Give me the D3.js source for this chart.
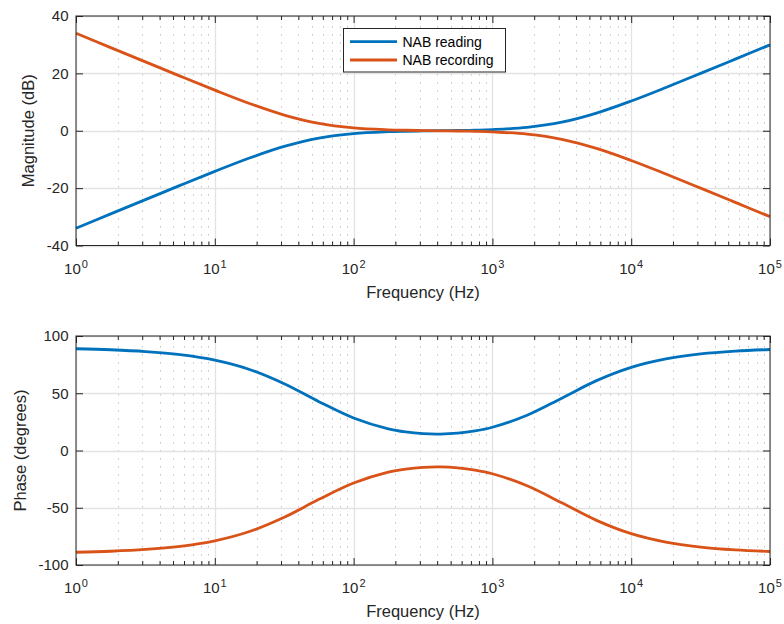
<!DOCTYPE html>
<html>
<head>
<meta charset="utf-8">
<script src="https://cdn.jsdelivr.net/npm/d3@7"></script>
<style>
  body { margin: 0; background: #fff; }
  svg { font-family: "Liberation Sans", Arial, Helvetica, sans-serif; }
</style>
</head>
<body>
<div id="chart"></div>
<script>
'use strict';

// Data (frequency in Hz)
var freq = [1, 1.778, 3.162, 5.623, 10, 17.78, 31.62, 56.23, 100, 177.8, 237.1, 316.2,
            421.7, 562.3, 749.9, 1000, 1778, 3162, 5623, 10000, 17783, 31623, 56234, 100000];

var readingMag = [-33.99, -28.99, -24.01, -19.04, -14.16, -9.50, -5.45, -2.53, -0.97, -0.32, -0.17, -0.07,
                  0.02, 0.09, 0.21, 0.40, 1.18, 2.98, 6.15, 10.36, 15.08, 19.99, 24.96, 29.95];
var recordingMag = [33.99, 28.99, 24.01, 19.04, 14.16, 9.50, 5.45, 2.53, 0.97, 0.32, 0.17, 0.07,
                    -0.02, -0.09, -0.21, -0.40, -1.18, -2.98, -6.15, -10.36, -15.08, -19.99, -24.96, -29.95];

var readingPhase = [88.87, 88.00, 86.44, 83.69, 78.88, 70.76, 58.29, 42.68, 28.39, 18.92, 16.18, 14.67,
                    14.32, 15.11, 17.08, 20.31, 30.80, 45.72, 61.00, 72.63, 80.01, 84.34, 86.81, 88.21];
var recordingPhase = [-88.87, -88.00, -86.44, -83.69, -78.88, -70.76, -58.29, -42.68, -28.39, -18.92, -16.18, -14.67,
                      -14.32, -15.11, -17.08, -20.31, -30.80, -45.72, -61.00, -72.63, -80.01, -84.34, -86.81, -88.21];

var seriesNames = ['NAB reading', 'NAB recording'];
var xTicks = [1, 10, 100, 1000, 10000, 100000];
var xTickExp = ['0', '1', '2', '3', '4', '5'];
var magTicks = [-40, -20, 0, 20, 40];
var phaseTicks = [-100, -50, 0, 50, 100];

var settings = {}
settings.width = 784
settings.height = 624
settings.left = 76
settings.right = 770
settings.colors = ['#0072BD', '#D95319']
settings.axis_color = '#262626'
settings.grid_color = '#e3e3e3'
settings.minor_grid_color = '#c2c2c2'
settings.line_width = 2.8
settings.tick_font_size = '15px'
settings.exp_font_size = '11px'
settings.label_font_size = '16.5px'
settings.legend_font_size = '14px'

var svg = d3.select('#chart').append('svg')
    .attr('width', settings.width)
    .attr('height', settings.height)

var x = d3.scaleLog()
    .domain([1, 100000])
    .range([settings.left, settings.right])

// minor ticks 2..9 of every decade
var minorTicks = []
xTicks.slice(0, -1).forEach(function(d) {
  for (var m = 2; m <= 9; m++) minorTicks.push(d * m)
})

function panel(opt) {
  var y = d3.scaleLinear()
      .domain(opt.domain)
      .range([opt.bottom, opt.top])

  var g = svg.append('g')

  // minor grid (dotted)
  g.selectAll('.mgrid').data(minorTicks).enter().append('line')
      .attr('x1', function(d) { return Math.round(x(d)) + 0.5 })
      .attr('x2', function(d) { return Math.round(x(d)) + 0.5 })
      .attr('y1', opt.top + 2)
      .attr('y2', opt.bottom)
      .attr('stroke', settings.minor_grid_color)
      .attr('stroke-width', 1)
      .attr('stroke-dasharray', '1.5,6.5')

  // major grid
  g.selectAll('.vgrid').data(xTicks).enter().append('line')
      .attr('x1', function(d) { return Math.round(x(d)) + 0.5 })
      .attr('x2', function(d) { return Math.round(x(d)) + 0.5 })
      .attr('y1', opt.top)
      .attr('y2', opt.bottom)
      .attr('stroke', settings.grid_color)
      .attr('stroke-width', 1.3)
  g.selectAll('.hgrid').data(opt.ticks).enter().append('line')
      .attr('x1', settings.left)
      .attr('x2', settings.right)
      .attr('y1', function(d) { return Math.round(y(d)) + 0.5 })
      .attr('y2', function(d) { return Math.round(y(d)) + 0.5 })
      .attr('stroke', settings.grid_color)
      .attr('stroke-width', 1.3)

  // data lines
  var line = d3.line()
      .x(function(d) { return x(d[0]) })
      .y(function(d) { return y(d[1]) })
      .curve(d3.curveCatmullRom.alpha(0.5))

  opt.series.forEach(function(s, i) {
    g.append('path')
        .datum(freq.map(function(f, j) { return [f, s[j]] }))
        .attr('d', line)
        .attr('fill', 'none')
        .attr('stroke', settings.colors[i])
        .attr('stroke-width', settings.line_width)
        .attr('stroke-linejoin', 'round')
  })

  // axes (ticks pointing inward)
  function styleAxis(sel) {
    sel.select('.domain').remove()
    sel.selectAll('line').attr('stroke', settings.axis_color)
  }
  g.append('g').attr('transform', 'translate(0,' + opt.bottom + ')')
      .call(d3.axisBottom(x).tickValues(xTicks).tickSize(-7).tickFormat(''))
      .call(styleAxis)
  g.append('g').attr('transform', 'translate(0,' + opt.bottom + ')')
      .call(d3.axisBottom(x).tickValues(minorTicks).tickSize(-4).tickFormat(''))
      .call(styleAxis)
  g.append('g').attr('transform', 'translate(0,' + opt.top + ')')
      .call(d3.axisTop(x).tickValues(xTicks).tickSize(-7).tickFormat(''))
      .call(styleAxis)
  g.append('g').attr('transform', 'translate(0,' + opt.top + ')')
      .call(d3.axisTop(x).tickValues(minorTicks).tickSize(-4).tickFormat(''))
      .call(styleAxis)
  g.append('g').attr('transform', 'translate(' + settings.left + ',0)')
      .call(d3.axisLeft(y).tickValues(opt.ticks).tickSize(-7).tickFormat(''))
      .call(styleAxis)
  g.append('g').attr('transform', 'translate(' + settings.right + ',0)')
      .call(d3.axisRight(y).tickValues(opt.ticks).tickSize(-7).tickFormat(''))
      .call(styleAxis)

  g.append('rect')
      .attr('x', settings.left)
      .attr('y', opt.top)
      .attr('width', settings.right - settings.left)
      .attr('height', opt.bottom - opt.top)
      .attr('fill', 'none')
      .attr('stroke', settings.axis_color)
      .attr('stroke-width', 1)

  // x tick labels 10^n
  var xl = g.selectAll('.xl').data(xTicks).enter().append('text')
      .attr('x', function(d) { return x(d) })
      .attr('y', opt.bottom + 28)
      .attr('text-anchor', 'middle')
      .attr('fill', settings.axis_color)
      .attr('font-size', settings.tick_font_size)
  xl.append('tspan').text('10')
  xl.append('tspan')
      .attr('dx', 1)
      .attr('dy', -6)
      .attr('font-size', settings.exp_font_size)
      .text(function(d, i) { return xTickExp[i] })

  // y tick labels
  g.selectAll('.yl').data(opt.ticks).enter().append('text')
      .attr('x', settings.left - 7.5)
      .attr('y', function(d) { return y(d) + 5.3 })
      .attr('text-anchor', 'end')
      .attr('fill', settings.axis_color)
      .attr('font-size', settings.tick_font_size)
      .text(function(d) { return d })

  // axis titles
  g.append('text')
      .attr('x', (settings.left + settings.right) / 2)
      .attr('y', opt.bottom + 52)
      .attr('text-anchor', 'middle')
      .attr('fill', settings.axis_color)
      .attr('font-size', settings.label_font_size)
      .text('Frequency (Hz)')
  g.append('text')
      .attr('transform', 'translate(' + opt.ylabel_x + ',' + (opt.top + opt.bottom) / 2 + ') rotate(-90)')
      .attr('text-anchor', 'middle')
      .attr('fill', settings.axis_color)
      .attr('font-size', settings.label_font_size)
      .text(opt.ylabel)

  return g
}

panel({ top: 16, bottom: 245.5, domain: [-40, 40], ticks: magTicks,
        ylabel: 'Magnitude (dB)', ylabel_x: 33.5, series: [readingMag, recordingMag] })
panel({ top: 336, bottom: 565, domain: [-100, 100], ticks: phaseTicks,
        ylabel: 'Phase (degrees)', ylabel_x: 25.5, series: [readingPhase, recordingPhase] })

// legend
var lg = svg.append('g').attr('transform', 'translate(343.5,28.5)')
lg.append('rect')
    .attr('width', 162)
    .attr('height', 43.5)
    .attr('fill', '#fff')
    .attr('stroke', settings.axis_color)
    .attr('stroke-width', 1)
seriesNames.forEach(function(name, i) {
  lg.append('line')
      .attr('x1', 6.5).attr('x2', 53.5)
      .attr('y1', 13.2 + i * 18.3).attr('y2', 13.2 + i * 18.3)
      .attr('stroke', settings.colors[i])
      .attr('stroke-width', settings.line_width)
  lg.append('text')
      .attr('x', 59)
      .attr('y', 18.2 + i * 18.3)
      .attr('font-size', settings.legend_font_size)
      .attr('fill', '#000')
      .text(name)
})
</script>
</body>
</html>
